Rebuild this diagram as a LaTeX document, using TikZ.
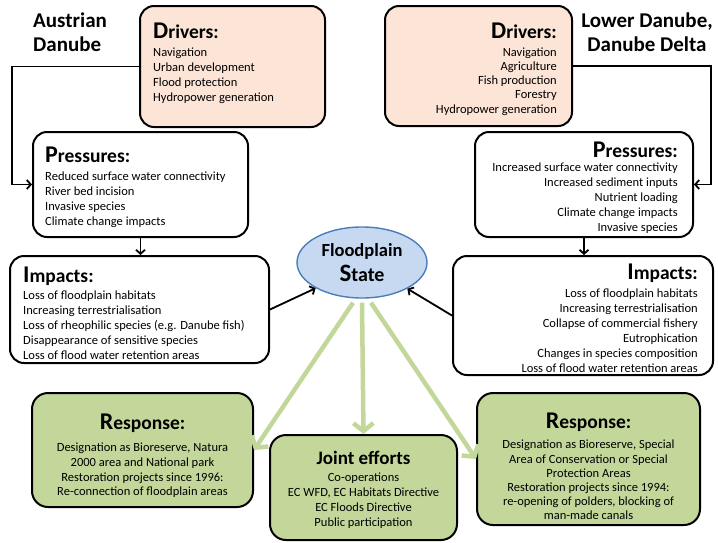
\documentclass[tikz,border=0pt]{standalone}
\usepackage{fontspec}
\setmainfont{Carlito}
\usetikzlibrary{positioning, shapes.geometric, arrows.meta}

\definecolor{drvfill}{RGB}{252,228,214}
\definecolor{rspfill}{RGB}{196,215,155}
\definecolor{statefill}{RGB}{198,217,241}
\definecolor{stateline}{RGB}{74,126,187}
\definecolor{garrow}{RGB}{196,215,155}

\newcommand{\bighead}[2]{{\fontsize{24}{24}\selectfont\bfseries #1}{\fontsize{19.5}{19.5}\selectfont\bfseries #2}}

\begin{document}
\begin{tikzpicture}[x=1pt, y=-1pt,
    box/.style={draw, line width=2pt, rounded corners=14pt, inner sep=0pt},
    txt/.style={inner sep=0pt, font=\fontsize{12.5}{15}\selectfont},
    conn/.style={line width=1.8pt, -{Straight Barb[length=4pt,width=9pt]}},
    grn/.style={line width=4.5pt, draw=garrow, -{Straight Barb[length=8pt,width=20pt]}},
    title/.style={inner sep=0pt, font=\fontsize{21}{24}\selectfont\bfseries}]

\useasboundingbox (0,0) rectangle (718,542);

% titles
\node[title, anchor=north west, align=left] (tL) at (33,13) {Austrian\\Danube};
\node[title, anchor=north, align=center] (tR) at (647,13) {Lower Danube,\\Danube Delta};

% drivers
\node[box, fill=drvfill, minimum width=185pt, minimum height=121pt] (dL) at (232.5,66.5) {};
\node[txt, anchor=north west, align=left] (dLt) at (153,23) {\bighead{D}{rivers:}\\[3pt]
  Navigation\\ Urban development\\ Flood protection\\ Hydropower generation};

\node[box, fill=drvfill, minimum width=187pt, minimum height=120pt] (dR) at (478.5,66) {};
\node[txt, font=\fontsize{12.5}{14.3}\selectfont, anchor=north east, align=right] (dRt) at (557,23) {\bighead{D}{rivers:}\\[3pt]
  Navigation\\ Agriculture\\ Fish production\\ Forestry\\ Hydropower generation};

% pressures
\node[box, minimum width=215pt, minimum height=105pt] (pL) at (140.5,184.5) {};
\node[txt, anchor=north west, align=left] (pLt) at (45,147) {\bighead{P}{ressures:}\\[3pt]
  Reduced surface water connectivity\\ River bed incision\\ Invasive species\\ Climate change impacts};

\node[box, minimum width=218pt, minimum height=105pt] (pR) at (584,184.5) {};
\node[txt, anchor=north east, align=right] (pRt) at (678,142) {\bighead{P}{ressures:}\\[-1pt]
  Increased surface water connectivity\\ Increased sediment inputs\\ Nutrient loading\\ Climate change impacts\\ Invasive species};

% impacts
\node[box, minimum width=259pt, minimum height=107pt] (iL) at (139.5,309.5) {};
\node[txt, anchor=north west, align=left] (iLt) at (23,267) {\bighead{I}{mpacts:}\\[2pt]
  Loss of floodplain habitats\\ Increasing terrestrialisation\\ Loss of rheophilic species (e.g. Danube fish)\\
  Disappearance of sensitive species\\ Loss of flood water retention areas};

\node[box, minimum width=260pt, minimum height=119pt] (iR) at (583,315.5) {};
\node[txt, anchor=north east, align=right] (iRt) at (698,264) {\bighead{I}{mpacts:}\\[3pt]
  Loss of floodplain habitats\\ Increasing terrestrialisation\\ Collapse of commercial fishery\\ Eutrophication\\
  Changes in species composition\\ Loss of flood water retention areas};

% state
\node[ellipse, draw=stateline, line width=1.4pt, fill=statefill, minimum width=130pt, minimum height=71pt,
  inner sep=0pt, align=center, font=\fontsize{18.5}{21}\selectfont\bfseries] (fs) at (362,262.5)
  {Floodplain\\[4pt]{\fontsize{25}{25}\selectfont S}{\fontsize{20}{20}\selectfont tate}};

% responses
\node[box, fill=rspfill, rounded corners=16pt, minimum width=221pt, minimum height=114pt] (rL) at (142.5,450) {};
\node[txt, font=\fontsize{12.5}{14.8}\selectfont, anchor=north, align=center] (rLt) at (142.5,414) {\bighead{R}{esponse:}\\[7pt]
  Designation as Bioreserve, Natura\\ 2000 area and National park\\ Restoration projects since 1996:\\ Re-connection of floodplain areas};

\node[box, fill=rspfill, rounded corners=16pt, minimum width=187pt, minimum height=105pt] (je) at (363.5,487.5) {};
\node[txt, anchor=north, align=center] (jet) at (363.5,451) {{\fontsize{19}{19}\selectfont\bfseries Joint efforts}\\[2pt]
  Co-operations\\ EC WFD, EC Habitats Directive\\ EC Floods Directive\\ Public participation};

\node[box, fill=rspfill, rounded corners=16pt, minimum width=223pt, minimum height=132pt] (rR) at (588.5,459) {};
\node[txt, font=\fontsize{12.5}{14.2}\selectfont, anchor=north, align=center] (rRt) at (588.5,413) {\bighead{R}{esponse:}\\[6pt]
  Designation as Bioreserve, Special\\ Area of Conservation or Special\\ Protection Areas\\
  Restoration projects since 1994:\\ re-opening of polders, blocking of\\ man-made canals};

% connectors
\draw[conn] (dL.west) -| ([xshift=-20pt]pL.west) -- (pL.west);
\draw[conn] (dR.east) -| ([xshift=17pt]pR.east) -- (pR.east);
\draw[conn] (pL.south) -- (pL.south |- iL.north);
\draw[conn] (pR.south) -- (pR.south |- iR.north);
\draw[conn] (iL.east) -- (fs.209);
\draw[conn] (iR.west) -- (fs.330);

\draw[grn] ([xshift=-9pt,yshift=-4pt]fs.south) -- (rL.east);
\draw[grn] ([yshift=-4pt]fs.south) -- (je.north);
\draw[grn] ([xshift=9pt,yshift=-4pt]fs.south) -- (rR.west);

\end{tikzpicture}
\end{document}
